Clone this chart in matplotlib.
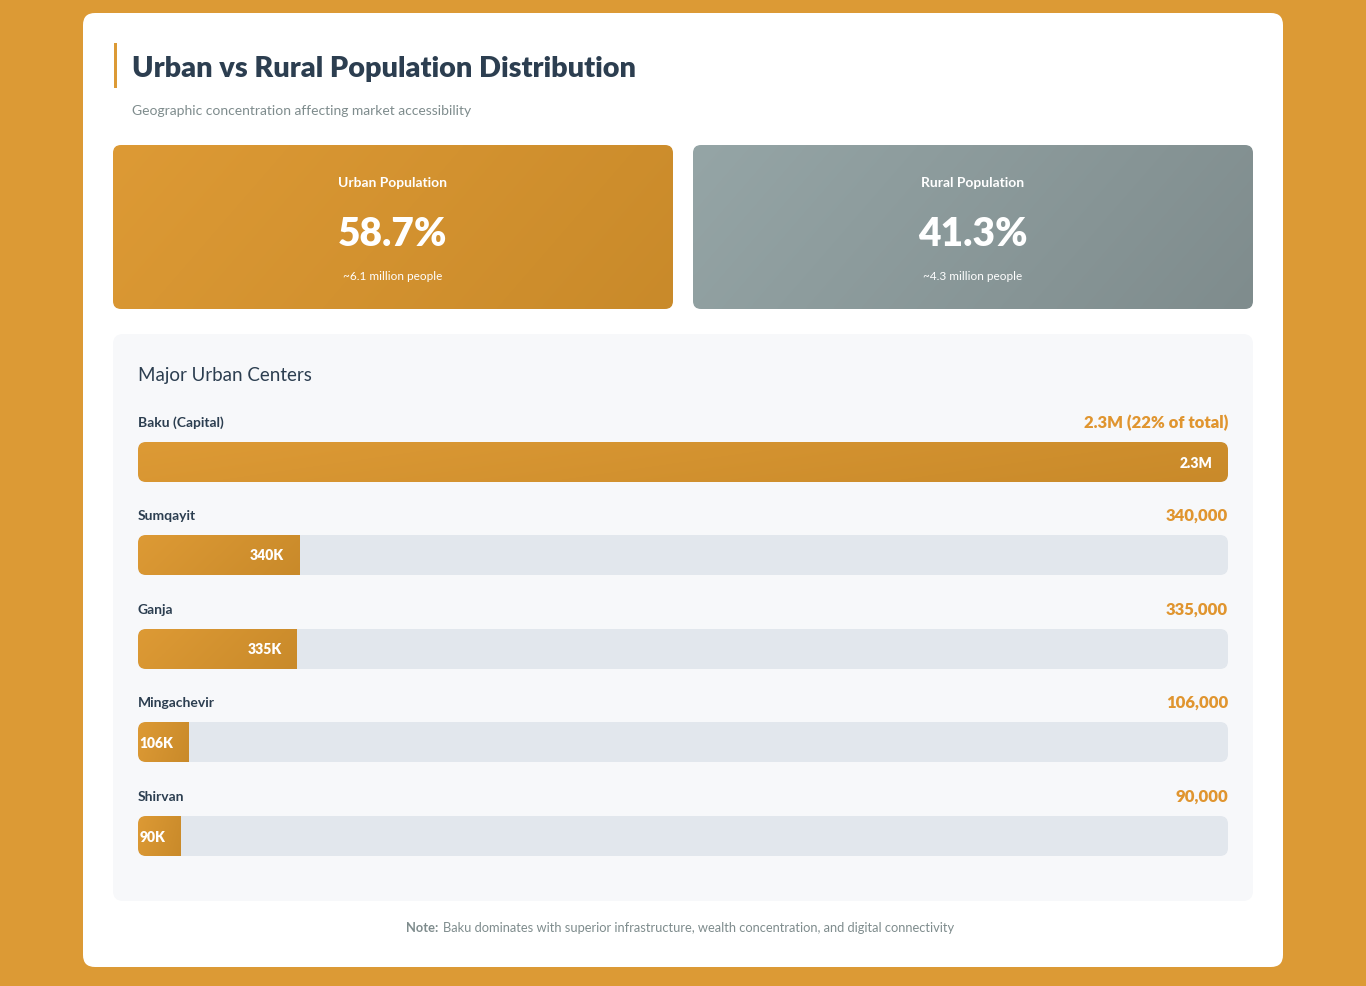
import matplotlib.pyplot as plt
import numpy as np
from matplotlib.patches import FancyBboxPatch, Rectangle

plt.rcParams['font.family'] = ['Lato', 'DejaVu Sans']

cities = ["Baku (Capital)", "Sumqayit", "Ganja", "Mingachevir", "Shirvan"]
populations = [2300000, 340000, 335000, 106000, 90000]
value_labels = ["2.3M (22% of total)", "340,000", "335,000", "106,000", "90,000"]
bar_labels = ["2.3M", "340K", "335K", "106K", "90K"]
scale_max = 2300000

shares = ["58.7%", "41.3%"]
share_titles = ["Urban Population", "Rural Population"]
share_people = ["~6.1 million people", "~4.3 million people"]

W, H = 1366, 987
fig = plt.figure(figsize=(W / 100, H / 100), dpi=100)
fig.patch.set_facecolor("#dc9a35")
ax = fig.add_axes([0, 0, 1, 1])
ax.set_xlim(0, W)
ax.set_ylim(H, 0)
ax.axis("off")


def rbox(a, x, y, w, h, r, color, z=1, aspect=1.0):
    p = FancyBboxPatch((x, y), w, h, boxstyle=f"round,pad=0,rounding_size={r}",
                       mutation_aspect=aspect, fc=color, ec="none", zorder=z)
    a.add_patch(p)
    return p


def gradient(a, patch, c1, c2, extent, z):
    c1 = np.array(plt.matplotlib.colors.to_rgb(c1))
    c2 = np.array(plt.matplotlib.colors.to_rgb(c2))
    xx, yy = np.meshgrid(np.linspace(0, 1, 200), np.linspace(0, 1, 50))
    t = (xx * 0.8 + yy * 0.2)[..., None]
    img = c1 * (1 - t) + c2 * t
    im = a.imshow(img, extent=extent, aspect="auto", zorder=z, interpolation="bilinear")
    im.set_clip_path(patch)


# main card
rbox(ax, 83, 14, 1200, 954, 12, "white")
ax.add_patch(Rectangle((114, 44), 3, 45, fc="#dc9a35", ec="none", zorder=2))
ax.text(132, 69, "Urban vs Rural Population Distribution", fontsize=20.8, fontweight="heavy",
        color="#2c3e50", va="center", ha="left")
ax.text(132, 111, "Geographic concentration affecting market accessibility", fontsize=10,
        color="#7f8c8d", va="center", ha="left")

# share cards
card_x = [113, 693]
card_cols = [("#dd9a35", "#c98a2a"), ("#95a5a6", "#7f8c8d")]
for i in range(2):
    x = card_x[i]
    p = rbox(ax, x, 146, 560, 164, 8, "none", z=2)
    gradient(ax, p, card_cols[i][0], card_cols[i][1], (x, x + 560, 310, 146), 2)
    cx = x + 280
    ax.text(cx, 183, share_titles[i], fontsize=10, fontweight="bold", color="white",
            ha="center", va="center", zorder=3)
    ax.text(cx, 235, shares[i], fontsize=28, fontweight="heavy", color="white",
            ha="center", va="center", zorder=3)
    ax.text(cx, 277, share_people[i], fontsize=8.5, color="white",
            ha="center", va="center", zorder=3)

# urban centers panel
rbox(ax, 113, 335, 1140, 567, 10, "#f7f8fa", z=1)
ax.text(138, 376, "Major Urban Centers", fontsize=13.5, color="#2c3e50", ha="left", va="center")

bx0, bx1 = 138, 1228
bax = fig.add_axes([bx0 / W, 0, (bx1 - bx0) / W, 1])
bax.set_xlim(0, scale_max)
bax.set_ylim(H, 0)
bax.axis("off")
bax.patch.set_alpha(0)
upp = scale_max / (bx1 - bx0)

label_y = [423, 516, 610, 703, 797]
for i, (city, val) in enumerate(zip(cities, populations)):
    ly = label_y[i]
    by = ly + 20
    bax.text(0, ly, city, fontsize=10, fontweight="bold", color="#2c3e50", ha="left", va="center")
    bax.text(scale_max, ly, value_labels[i], fontsize=12, fontweight="heavy", color="#e0952f",
             ha="right", va="center")
    track = rbox(bax, 0, by, scale_max, 40, 8 * upp, "#e2e7ed", z=1, aspect=1 / upp)
    gradient(bax, track, "#dd9a35", "#c98a2a", (0, val, by + 40, by), 2)
    bax.text(val - 15 * upp, by + 20, bar_labels[i], fontsize=10, fontweight="heavy", color="white",
             ha="right", va="center", zorder=3)

ax.text(438, 928, "Note:", fontsize=9.3, fontweight="bold", color="#7f8c8d", ha="right", va="center")
ax.text(443, 928, "Baku dominates with superior infrastructure, wealth concentration, and digital connectivity",
        fontsize=9.3, color="#7f8c8d", ha="left", va="center")

fig.savefig("out.png", dpi=100)
